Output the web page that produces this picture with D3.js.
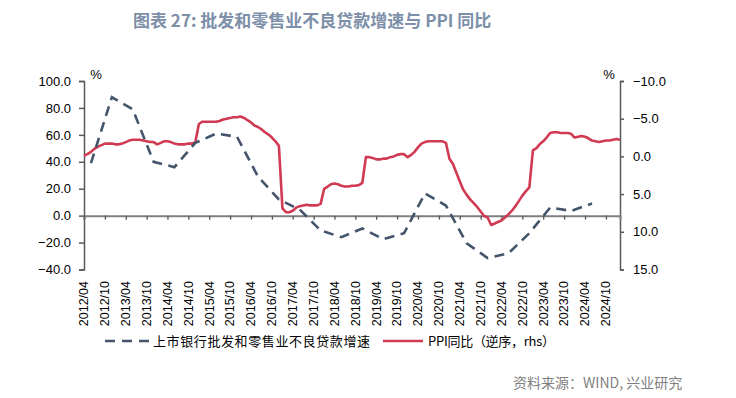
<!DOCTYPE html>
<html><head><meta charset="utf-8">
<script src="https://cdn.jsdelivr.net/npm/d3@7"></script>
<style>
html,body{margin:0;padding:0;background:#fff;}
svg{display:block;}
text{font-family:"Liberation Sans","Noto Sans CJK SC",sans-serif;}
.cjk{font-family:"Noto Sans CJK SC","Noto Sans",sans-serif;}
</style></head>
<body><svg id="chart" width="736" height="398"></svg>
<script>
// ---------- data ----------
const titleText = "图表 27: 批发和零售业不良贷款增速与 PPI 同比";
const sourceText = "资料来源：WIND, 兴业研究";
const seriesNames = ["上市银行批发和零售业不良贷款增速", "PPI同比（逆序，rhs）"];

// semi-annual NPL growth of wholesale & retail loans (left axis, %)
const nplDates = ["2012-06","2012-12","2013-06","2013-12","2014-06","2014-12","2015-06","2015-12",
  "2016-06","2016-12","2017-06","2017-12","2018-06","2018-12","2019-06","2019-12","2020-06","2020-12",
  "2021-06","2021-12","2022-06","2022-12","2023-06","2023-12","2024-06"];
const nplValues = [39, 88, 79, 40, 36, 54, 61, 58.5,
  29, 12, 4.5, -11, -16, -9.5, -17.5, -13, 16.5, 7.5,
  -20.5, -31.5, -28, -13, 6, 3.5, 9];

// monthly PPI YoY (cumulative), reversed right axis, from 2012-04
const ppiStart = "2012-04";
const ppiValues = [
  -0.1,-0.3,-0.6,-1.0,-1.3,-1.5,-1.7,-1.7,-1.7,
  -1.6,-1.6,-1.7,-1.9,-2.1,-2.2,-2.2,-2.2,-2.1,-2.0,-1.9,-1.9,
  -1.6,-1.8,-2.0,-2.0,-1.9,-1.7,-1.6,-1.6,-1.6,-1.7,-1.7,-1.9,
  -4.3,-4.6,-4.6,-4.6,-4.6,-4.6,-4.7,-4.9,-5.0,-5.1,-5.2,-5.2,
  -5.3,-5.1,-4.8,-4.5,-4.1,-3.9,-3.6,-3.2,-2.9,-2.5,-2.0,-1.4,
  6.9,7.4,7.4,7.2,6.8,6.6,6.5,6.4,6.5,6.5,6.5,6.3,
  4.3,4.0,3.7,3.6,3.7,3.9,4.0,4.0,3.9,3.9,3.8,3.5,
  0.1,0.1,0.2,0.4,0.4,0.3,0.3,0.1,0.0,-0.2,-0.3,-0.3,
  0.1,-0.2,-0.6,-1.2,-1.7,-1.9,-2.0,-2.0,-2.0,-2.0,-2.0,-1.8,
  0.3,1.0,2.1,3.3,4.4,5.1,5.7,6.2,6.7,7.3,7.9,8.1,
  9.1,8.9,8.7,8.5,8.1,7.7,7.2,6.6,5.9,5.2,4.6,4.1,
  -0.8,-1.1,-1.6,-2.0,-2.5,-3.1,-3.2,-3.2,-3.1,-3.1,-3.1,-3.0,
  -2.5,-2.6,-2.7,-2.6,-2.4,-2.1,-2.0,-1.9,-2.0,-2.1,-2.1,-2.2,
  -2.3,-2.2];

const xTickLabels = ["2012/04","2012/10","2013/04","2013/10","2014/04","2014/10","2015/04","2015/10",
  "2016/04","2016/10","2017/04","2017/10","2018/04","2018/10","2019/04","2019/10","2020/04","2020/10",
  "2021/04","2021/10","2022/04","2022/10","2023/04","2023/10","2024/04","2024/10"];
const leftTicks = [100, 80, 60, 40, 20, 0, -20, -40];
const rightTicks = [-10, -5, 0, 5, 10, 15];

// ---------- build ----------
const parseM = d3.timeParse("%Y-%m");
const parseL = d3.timeParse("%Y/%m");
const ppiDates = d3.timeMonth.range(parseM(ppiStart), d3.timeMonth.offset(parseM(ppiStart), ppiValues.length));
const ppiData = ppiValues.map((v, i) => ({d: ppiDates[i], v}));
const nplData = nplValues.map((v, i) => ({d: parseM(nplDates[i]), v}));

const svg = d3.select("#chart");
const x = d3.scaleTime().domain([parseM("2012-04"), parseM("2025-02")]).range([84, 620]);
const yL = d3.scaleLinear().domain([-40, 100]).range([269.5, 81]);
const yR = d3.scaleLinear().domain([-10, 15]).range([81, 269.5]);

// title
svg.append("text").attr("class","cjk").attr("x", 133).attr("y", 26.5)
  .attr("font-size", 17).attr("font-weight", "bold").attr("fill", "#7d8fa9").text(titleText);

const axisColor = "#595959";
// left axis
const gL = svg.append("g").attr("transform","translate(84,0)")
  .call(d3.axisLeft(yL).tickValues(leftTicks).tickSize(5).tickPadding(8).tickFormat(d3.format(".1f")));
gL.select(".domain").attr("stroke", axisColor).attr("stroke-width", 1.5);
gL.selectAll(".tick line").attr("stroke", axisColor).attr("stroke-width", 1.5);
gL.selectAll(".tick text").attr("font-size", 13).attr("fill", "#000")
  .attr("font-family", "Liberation Sans");

// right axis
const gR = svg.append("g").attr("transform","translate(620,0)")
  .call(d3.axisRight(yR).tickValues(rightTicks).tickSize(4).tickPadding(9).tickFormat(d3.format(".1f")));
gR.select(".domain").attr("stroke", axisColor).attr("stroke-width", 1.5);
gR.selectAll(".tick line").attr("stroke", axisColor).attr("stroke-width", 1.5);
gR.selectAll(".tick text").attr("font-size", 13).attr("fill", "#000")
  .attr("font-family", "Liberation Sans");

// % units
svg.append("text").attr("x", 96).attr("y", 79).attr("text-anchor","middle").attr("font-size", 13).text("%");
svg.append("text").attr("x", 609).attr("y", 79).attr("text-anchor","middle").attr("font-size", 13).text("%");

// x axis at zero
const xTicks = xTickLabels.map(parseL);
const gX = svg.append("g").attr("transform", `translate(0,${yL(0)})`)
  .call(d3.axisBottom(x).tickValues(xTicks).tickSize(4).tickFormat(""));
gX.select(".domain").attr("stroke", "#808080").attr("stroke-width", 2);
gX.selectAll(".tick line").attr("stroke", "#595959").attr("stroke-width", 1.3);

// x labels at bottom
svg.append("g").selectAll("text").data(xTickLabels).join("text")
  .attr("transform", d => `translate(${x(parseL(d))},281) rotate(-90)`)
  .attr("text-anchor", "end").attr("dy", "0.35em")
  .attr("font-size", 12.5).attr("fill", "#000").text(d => d);

// lines
const ppiColor = "#d03a52", nplColor = "#44546a";
svg.append("path").datum(ppiData)
  .attr("fill","none").attr("stroke", ppiColor).attr("stroke-width", 2.6).attr("stroke-linejoin","round")
  .attr("d", d3.line().x(d => x(d.d)).y(d => yR(d.v)));
svg.append("path").datum(nplData)
  .attr("fill","none").attr("stroke", nplColor).attr("stroke-width", 2.6)
  .attr("stroke-dasharray", "10,6.5")
  .attr("d", d3.line().x(d => x(d.d)).y(d => yL(d.v)));

// legend
const ly = 341;
svg.append("line").attr("x1",105).attr("x2",150).attr("y1",ly).attr("y2",ly)
  .attr("stroke", nplColor).attr("stroke-width", 2.6).attr("stroke-dasharray","10,7");
svg.append("text").attr("class","cjk").attr("x",153).attr("y",ly+4.5).attr("font-size",13)
  .attr("textLength",217).attr("lengthAdjust","spacing").text(seriesNames[0]);
svg.append("line").attr("x1",383).attr("x2",423).attr("y1",ly).attr("y2",ly)
  .attr("stroke", ppiColor).attr("stroke-width", 2.6);
svg.append("text").attr("class","cjk").attr("x",428).attr("y",ly+4.5).attr("font-size",13)
  .attr("textLength",127).attr("lengthAdjust","spacing").text(seriesNames[1]);

// source
svg.append("text").attr("class","cjk").attr("x",513).attr("y",388).attr("font-size",14)
  .attr("fill","#7f7f7f").text(sourceText);
</script></body></html>
